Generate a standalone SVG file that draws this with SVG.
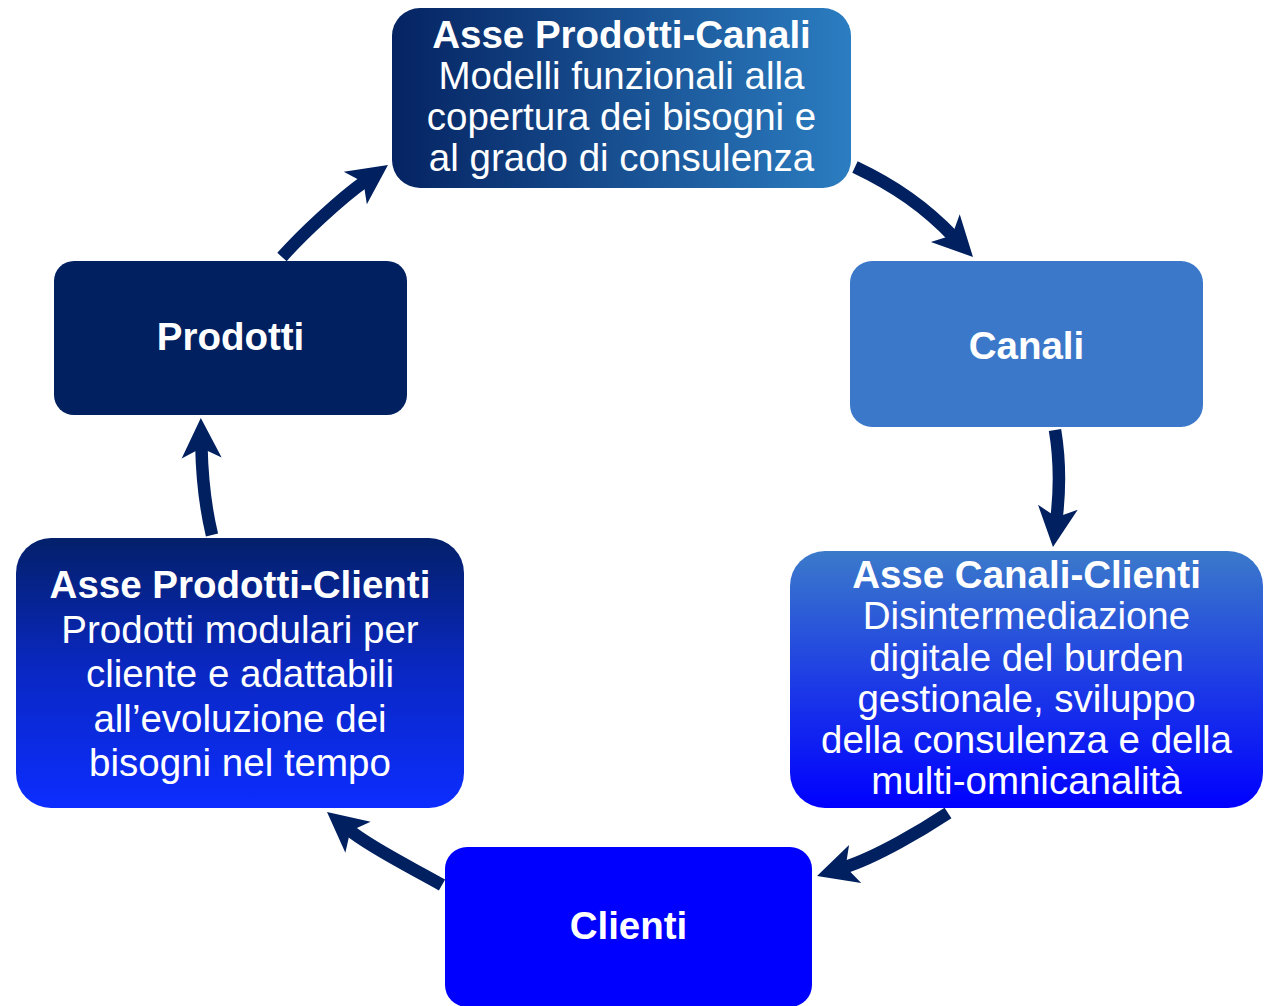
<svg xmlns="http://www.w3.org/2000/svg" width="1267" height="1006" viewBox="0 0 1267 1006">
<style>
.t{font-family:"Liberation Sans",Arial,sans-serif;fill:#ffffff;font-size:38.5px;text-anchor:middle}
.b{font-weight:bold}
.conn{fill:none;stroke:#002060;stroke-width:12.5;marker-end:url(#ah)}
</style>
<defs>
<linearGradient id="gTop" x1="0" y1="0" x2="1" y2="0">
<stop offset="0" stop-color="#052362"/>
<stop offset="1" stop-color="#2b7dc1"/>
</linearGradient>
<linearGradient id="gPC" x1="0" y1="0" x2="0" y2="1">
<stop offset="0" stop-color="#03206a"/>
<stop offset="0.5" stop-color="#0a28c4"/>
<stop offset="1" stop-color="#0c2dff"/>
</linearGradient>
<linearGradient id="gCC" x1="0" y1="0" x2="0" y2="1">
<stop offset="0" stop-color="#3b7aca"/>
<stop offset="1" stop-color="#0000ff"/>
</linearGradient>
<marker id="ah" viewBox="-42 -22 44 44" markerWidth="44" markerHeight="44" refX="-28" refY="0" orient="auto" markerUnits="userSpaceOnUse" overflow="visible">
<path d="M0,0 L-40,-20 L-30,0 L-40,20 Z" fill="#002060"/>
</marker>
</defs>

<g id="connectors">
<path class="conn" d="M855,167 C895,186 925,207 953.6,236.8"/>
<path class="conn" d="M1055,430 C1060,460 1060,490 1056.4,519.2"/>
<path class="conn" d="M948,813 C923,829.5 877,857 843.7,867.6"/>
<path class="conn" d="M442,885 C416,870 372,848.7 348.7,829.7"/>
<path class="conn" d="M212,535 C206,510 202,475 201.4,446"/>
<path class="conn" d="M282,257 C301.8,234.5 340.6,198.4 365.1,181.1"/>
</g>

<g id="node-asse-prodotti-canali">
<rect x="392" y="8" width="459" height="180" rx="28" fill="url(#gTop)"/>
<text class="t b" x="621.5" y="48">Asse Prodotti-Canali</text>
<text class="t" x="621.5" y="89">Modelli funzionali alla</text>
<text class="t" x="621.5" y="130">copertura dei bisogni e</text>
<text class="t" x="621.5" y="171">al grado di consulenza</text>
</g>

<g id="node-prodotti">
<rect x="54" y="261" width="353" height="154" rx="20" fill="#002060"/>
<text class="t b" x="230.5" y="349.5">Prodotti</text>
</g>

<g id="node-canali">
<rect x="850" y="261" width="353" height="166" rx="22" fill="#3b78c9"/>
<text class="t b" x="1026.5" y="358.5">Canali</text>
</g>

<g id="node-asse-canali-clienti">
<rect x="790" y="551" width="473" height="257" rx="35" fill="url(#gCC)"/>
<text class="t b" x="1026.5" y="587.5">Asse Canali-Clienti</text>
<text class="t" x="1026.5" y="629">Disintermediazione</text>
<text class="t" x="1026.5" y="670.5">digitale del burden</text>
<text class="t" x="1026.5" y="711.5">gestionale, sviluppo</text>
<text class="t" x="1026.5" y="753">della consulenza e della</text>
<text class="t" x="1026.5" y="794">multi-omnicanalità</text>
</g>

<g id="node-clienti">
<rect x="445" y="847" width="367" height="160" rx="22" fill="#0000ff"/>
<text class="t b" x="628.5" y="938.5">Clienti</text>
</g>

<g id="node-asse-prodotti-clienti">
<rect x="16" y="538" width="448" height="270" rx="35" fill="url(#gPC)"/>
<text class="t b" x="240" y="598">Asse Prodotti-Clienti</text>
<text class="t" x="240" y="642.5">Prodotti modulari per</text>
<text class="t" x="240" y="687">cliente e adattabili</text>
<text class="t" x="240" y="731.5">all’evoluzione dei</text>
<text class="t" x="240" y="776">bisogni nel tempo</text>
</g>
</svg>
